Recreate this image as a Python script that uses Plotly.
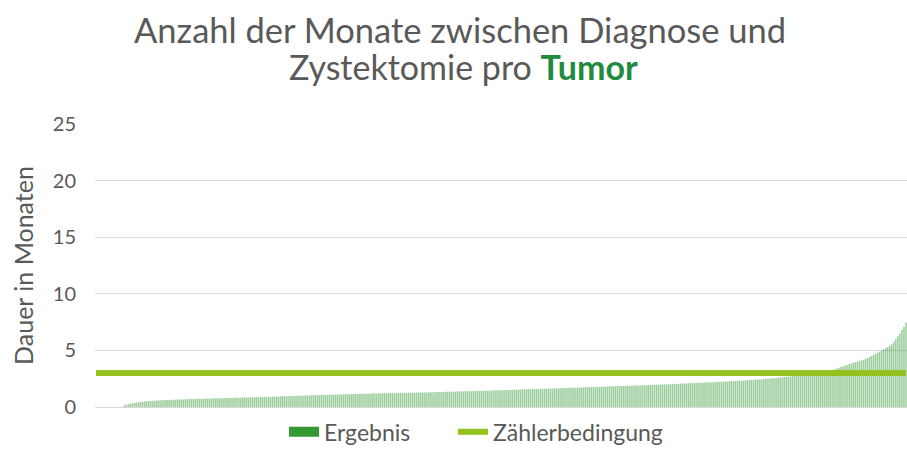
import plotly.graph_objects as go

title_line1 = "Anzahl der Monate zwischen Diagnose und"
title_line2 = "Zystektomie pro "
title_highlight = "Tumor"
y_axis_title = "Dauer in Monaten"
series_name = "Ergebnis"
threshold_name = "Zählerbedingung"
threshold_value = 3
y_ticks = [0, 5, 10, 15, 20, 25]

# Dauer in Monaten pro Tumor (sortiert)
durations = [
    0, 0, 0, 0, 0, 0, 0, 0, 0, 0,
    0, 0, 0, 0, 0.16, 0.2, 0.25, 0.3, 0.33, 0.36,
    0.39, 0.42, 0.45, 0.47, 0.49, 0.5, 0.52, 0.53, 0.55, 0.56,
    0.57, 0.58, 0.59, 0.6, 0.61, 0.62, 0.62, 0.63, 0.64, 0.65,
    0.66, 0.66, 0.67, 0.68, 0.68, 0.69, 0.7, 0.7, 0.71, 0.72,
    0.72, 0.73, 0.73, 0.74, 0.74, 0.75, 0.75, 0.76, 0.76, 0.77,
    0.77, 0.78, 0.78, 0.79, 0.79, 0.8, 0.8, 0.8, 0.81, 0.81,
    0.82, 0.82, 0.83, 0.83, 0.84, 0.84, 0.85, 0.86, 0.86, 0.87,
    0.87, 0.88, 0.88, 0.89, 0.9, 0.9, 0.91, 0.91, 0.92, 0.93,
    0.93, 0.94, 0.94, 0.95, 0.95, 0.96, 0.97, 0.97, 0.98, 0.99,
    0.99, 1.0, 1.0, 1.01, 1.02, 1.02, 1.03, 1.04, 1.04, 1.05,
    1.05, 1.06, 1.07, 1.07, 1.08, 1.08, 1.09, 1.09, 1.1, 1.1,
    1.11, 1.11, 1.12, 1.12, 1.13, 1.13, 1.14, 1.14, 1.15, 1.15,
    1.16, 1.16, 1.17, 1.17, 1.18, 1.18, 1.19, 1.19, 1.2, 1.2,
    1.21, 1.21, 1.22, 1.22, 1.22, 1.23, 1.23, 1.23, 1.24, 1.24,
    1.24, 1.25, 1.25, 1.25, 1.26, 1.26, 1.26, 1.27, 1.27, 1.27,
    1.28, 1.28, 1.29, 1.29, 1.3, 1.3, 1.31, 1.31, 1.32, 1.32,
    1.33, 1.33, 1.34, 1.34, 1.35, 1.35, 1.36, 1.36, 1.37, 1.37,
    1.38, 1.38, 1.39, 1.39, 1.4, 1.4, 1.41, 1.41, 1.42, 1.42,
    1.43, 1.43, 1.44, 1.44, 1.45, 1.45, 1.46, 1.47, 1.47, 1.48,
    1.49, 1.5, 1.5, 1.51, 1.52, 1.52, 1.53, 1.53, 1.54, 1.55,
    1.55, 1.56, 1.56, 1.57, 1.57, 1.58, 1.58, 1.59, 1.59, 1.6,
    1.61, 1.61, 1.62, 1.63, 1.63, 1.64, 1.65, 1.65, 1.66, 1.66,
    1.67, 1.68, 1.68, 1.69, 1.7, 1.7, 1.71, 1.71, 1.72, 1.73,
    1.73, 1.74, 1.74, 1.75, 1.76, 1.76, 1.77, 1.77, 1.78, 1.79,
    1.8, 1.8, 1.81, 1.82, 1.82, 1.83, 1.83, 1.84, 1.85, 1.85,
    1.86, 1.86, 1.87, 1.88, 1.88, 1.89, 1.9, 1.9, 1.91, 1.92,
    1.92, 1.93, 1.94, 1.94, 1.95, 1.96, 1.97, 1.97, 1.98, 1.99,
    2.0, 2.0, 2.01, 2.02, 2.03, 2.04, 2.04, 2.05, 2.06, 2.07,
    2.08, 2.08, 2.09, 2.1, 2.11, 2.12, 2.12, 2.13, 2.14, 2.15,
    2.16, 2.17, 2.17, 2.18, 2.19, 2.2, 2.21, 2.22, 2.23, 2.24,
    2.25, 2.26, 2.27, 2.28, 2.29, 2.3, 2.31, 2.32, 2.33, 2.34,
    2.35, 2.36, 2.38, 2.39, 2.4, 2.42, 2.43, 2.44, 2.46, 2.47,
    2.49, 2.5, 2.52, 2.53, 2.55, 2.57, 2.58, 2.6, 2.62, 2.64,
    2.66, 2.68, 2.7, 2.72, 2.74, 2.76, 2.78, 2.8, 2.82, 2.84,
    2.86, 2.88, 2.9, 2.93, 2.95, 2.98, 3.0, 3.03, 3.06, 3.09,
    3.1, 3.14, 3.19, 3.25, 3.32, 3.4, 3.47, 3.54, 3.6, 3.66,
    3.72, 3.78, 3.84, 3.9, 3.96, 4.0, 4.05, 4.1, 4.17, 4.25,
    4.33, 4.42, 4.5, 4.6, 4.7, 4.8, 4.9, 5.0, 5.1, 5.2,
    5.3, 5.42, 5.55, 5.75, 6.0, 6.25, 6.5, 6.8, 7.1, 7.45,
]

idx = list(range(len(durations)))
FONT = "Lato"
GRAY = "#595959"
BAR_GREEN = "#339933"
LINE_GREEN = "#95c11f"

fig = go.Figure()
fig.add_trace(go.Bar(
    x=idx, y=durations, showlegend=False,
    marker=dict(color="rgba(55,155,55,0.5)", line=dict(width=0)),
    hoverinfo="y",
))
# legend swatch for the bar series (wide rectangle like the reference)
fig.add_trace(go.Scatter(
    x=[None], y=[None], name=series_name, mode="lines",
    line=dict(color=BAR_GREEN, width=13), legend="legend",
))
fig.add_trace(go.Scatter(
    x=idx, y=[threshold_value] * len(idx), name=threshold_name,
    mode="lines", line=dict(color=LINE_GREEN, width=6), legend="legend2",
))

legend_common = dict(
    orientation="h", xanchor="left", y=-0.088, yanchor="middle",
    font=dict(family=FONT, size=23, color=GRAY), bgcolor="rgba(0,0,0,0)",
)

fig.update_layout(
    width=907, height=470,
    margin=dict(l=95, r=0, t=124, b=63),
    paper_bgcolor="white", plot_bgcolor="white",
    bargap=0.25,
    font=dict(family=FONT, color=GRAY, size=20),
    showlegend=True,
    legend=dict(x=0.2328, **legend_common),
    legend2=dict(x=0.4409, **legend_common),
    xaxis=dict(
        showticklabels=False, showgrid=False, zeroline=False,
        range=[-0.5, len(durations) - 0.5], fixedrange=True,
    ),
    yaxis=dict(
        range=[0, 25], tickvals=y_ticks, showgrid=True, gridcolor="#d9d9d9",
        gridwidth=1, zeroline=True, zerolinecolor="#d9d9d9", zerolinewidth=1,
        ticks="", ticklabelstandoff=18,
        tickfont=dict(size=20, color=GRAY),
        title=dict(text=y_axis_title, font=dict(size=25, color=GRAY), standoff=12),
    ),
    annotations=[
        dict(text=title_line1, xref="paper", yref="paper", x=0.4495, y=1.335,
             xanchor="center", yanchor="middle", showarrow=False,
             font=dict(family=FONT, size=34.5, color=GRAY)),
        dict(text=f"{title_line2}<b><span style='color:#218a3c'>{title_highlight}</span></b>",
             xref="paper", yref="paper", x=0.4535, y=1.202,
             xanchor="center", yanchor="middle", showarrow=False,
             font=dict(family=FONT, size=34, color=GRAY)),
    ],
)

fig.write_html(
    "out.html",
    config={"displayModeBar": False},
    post_script="document.body.style.margin='0';document.body.style.overflow='hidden';",
)
